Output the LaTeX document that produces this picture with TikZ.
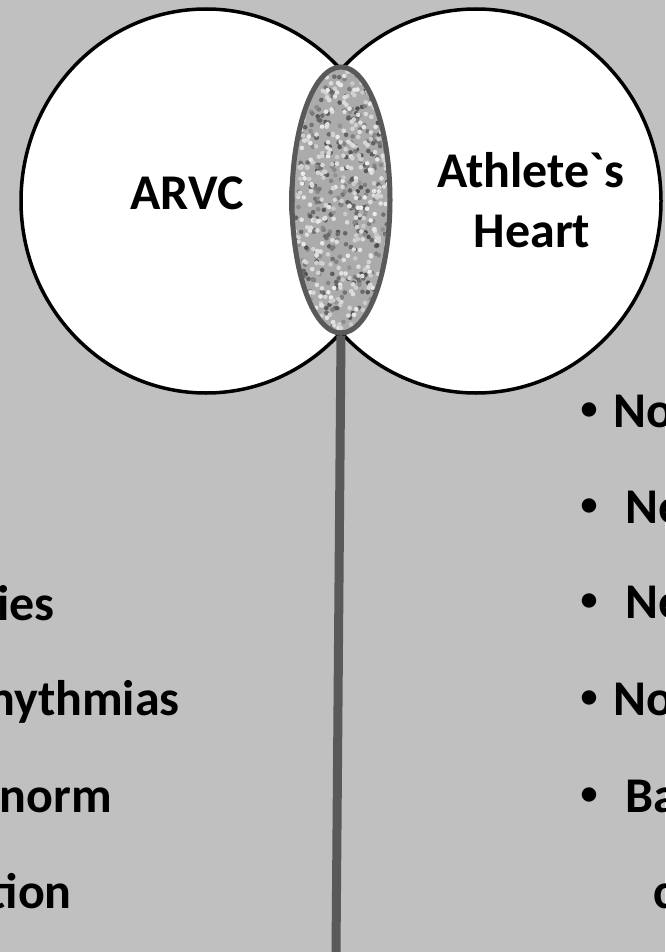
\documentclass[tikz,border=0pt]{standalone}
\usepackage{fontspec}
\setmainfont{Carlito}
\usetikzlibrary{shapes.geometric}
\definecolor{bg}{HTML}{C0C0C0}
\definecolor{stemgray}{HTML}{595959}
\begin{document}
\begin{tikzpicture}[x=1pt,y=-1pt,
  venn/.style={ellipse, draw=black, fill=white, line width=3.5pt,
    minimum width=370pt, minimum height=384pt, inner sep=0pt},
  lbl/.style={font=\fontsize{50}{60}\selectfont\bfseries, inner sep=0pt, anchor=base},
  bul/.style={font=\fontsize{34}{40}\selectfont\bfseries, inner sep=0pt, anchor=base},
  rtxt/.style={lbl, anchor=base west},
  ltxt/.style={lbl, anchor=base east},
  overlap/.style={ellipse, draw=stemgray, line width=5pt, fill=black!33,
    minimum width=98pt, minimum height=266pt, inner sep=0pt,
    path picture={
      \begin{scope}[shift={(path picture bounding box.center)}]
      \pgfmathsetseed{7}
      \foreach \i in {1,...,420}{
        \pgfmathsetmacro\dx{52*rand}
        \pgfmathsetmacro\dy{136*rand}
        \pgfmathsetmacro\g{int(42+28*rnd)}
        \fill[black!\g] (\dx pt,\dy pt) circle (2.3pt);
      }
      \foreach \i in {1,...,420}{
        \pgfmathsetmacro\dx{52*rand}
        \pgfmathsetmacro\dy{136*rand}
        \pgfmathsetmacro\g{int(8+14*rnd)}
        \fill[black!\g] (\dx pt,\dy pt) circle (2.3pt);
      }
      \end{scope}}},
  stem/.style={draw=stemgray, line width=9pt}]
\useasboundingbox (0,0) rectangle (665,952);
\clip (0,0) rectangle (665,952);
\fill[bg] (0,0) rectangle (665,952);
% Venn ellipses
\node[venn] (left) at (206,201) {};
\node[venn] (right) at (476,201) {};
% overlap
\coordinate (stemend) at (336,952);
\node[overlap] (ov) at (341,200) {};
\draw[stem] (ov.south) -- (stemend);
% labels
\node[lbl] (arvc) at (187,209) {ARVC};
\node[lbl] (ath1) at (531,187) {Athlete\textasciigrave s};
\node[lbl] (ath2) at (532,247) {Heart};
% right bullets
\node[bul] (b1) at (589,419) {•};
\node[rtxt] (r1) at (613,427) {No};
\node[bul] (b2) at (589,515) {•};
\node[rtxt] (r2) at (625,523) {Ne};
\node[bul] (b3) at (589,610) {•};
\node[rtxt] (r3) at (625,618) {Ne};
\node[bul] (b4) at (589,707) {•};
\node[rtxt] (r4) at (613,715) {No};
\node[bul] (b5) at (589,804) {•};
\node[rtxt] (r5) at (625,812) {Ba};
\node[rtxt] (r6) at (653,908) {c};
% left texts
\node[ltxt] (l1) at (55,620) {ies};
\node[ltxt] (l2) at (180,715) {hythmias};
\node[ltxt] (l3) at (112,812) {norm};
\node[ltxt] (l4) at (72,908) {tion};
\end{tikzpicture}
\end{document}
